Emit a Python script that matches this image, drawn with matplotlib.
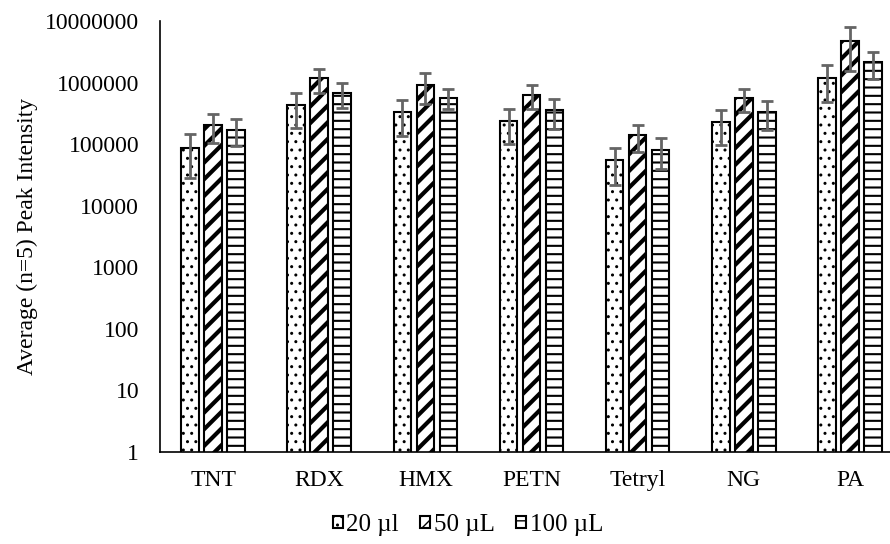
import matplotlib.pyplot as plt
import numpy as np

plt.rcParams['font.family'] = ['Liberation Serif', 'DejaVu Serif']

# Données
explosivos = ['TNT', 'RDX', 'HMX', 'PETN', 'Tetryl', 'NG', 'PA']
series = ['20 µl', '50 µL', '100 µL']

media_20 = [87500, 432000, 329000, 235000, 54600, 229000, 1200000]
erro_20 = [59000, 252000, 195000, 133000, 33000, 131000, 710000]
media_50 = [204700, 1186000, 927000, 638000, 139000, 562000, 4730000]
erro_50 = [101000, 500000, 480000, 265000, 64000, 225000, 3200000]
media_100 = [171700, 677000, 570000, 360000, 81300, 337000, 2160000]
erro_100 = [80000, 290000, 205000, 185000, 42000, 166000, 1000000]

y_ticks = [1, 10, 100, 1000, 10000, 100000, 1000000, 10000000]

medias = [media_20, media_50, media_100]
erros = [erro_20, erro_50, erro_100]
hachuras = ['..', '//', '--']
hatch_lw = [1.0, 3.0, 1.5]

fig = plt.figure(figsize=(8.9, 5.44), dpi=100)
ax = fig.add_axes([160 / 890, 92.3 / 544, 743 / 890, 430.7 / 544])

x = np.arange(len(explosivos))
passo = 0.2166
largura = 0.165

for i, s in enumerate(series):
    pos = x + (i - 1) * passo
    barras = ax.bar(pos, medias[i], width=largura, color='white', edgecolor='black',
                    linewidth=1.5, hatch=hachuras[i], label=s, zorder=2)
    for b in barras:
        if hasattr(b, 'set_hatch_linewidth'):
            b.set_hatch_linewidth(hatch_lw[i])
    ax.errorbar(pos, medias[i], yerr=erros[i], fmt='none', ecolor='#656565',
                elinewidth=2, capsize=4.3, capthick=2, zorder=3)

ax.set_yscale('log')
ax.set_ylim(1, 1e7)
ax.set_xlim(-0.5, 6.5)
ax.set_yticks(y_ticks)
ax.set_yticklabels([str(t) for t in y_ticks])
ax.minorticks_off()
ax.set_xticks(x)
ax.set_xticklabels(explosivos)
ax.tick_params(axis='both', length=0, labelsize=17)
ax.tick_params(axis='y', pad=15)
ax.tick_params(axis='x', pad=13)
ax.set_ylabel('Average (n=5) Peak Intensity', fontsize=17, labelpad=5)

for lado in ['top', 'right']:
    ax.spines[lado].set_visible(False)
for lado in ['left', 'bottom']:
    ax.spines[lado].set_linewidth(1.2)
    ax.spines[lado].set_color('black')

fig.legend(loc='center', bbox_to_anchor=(468 / 890, 1 - 525 / 544), ncol=3,
           frameon=False, fontsize=18, handlelength=0.4, handleheight=0.4,
           handletextpad=0.15, columnspacing=0.85)

fig.savefig('out.png', dpi=100)
